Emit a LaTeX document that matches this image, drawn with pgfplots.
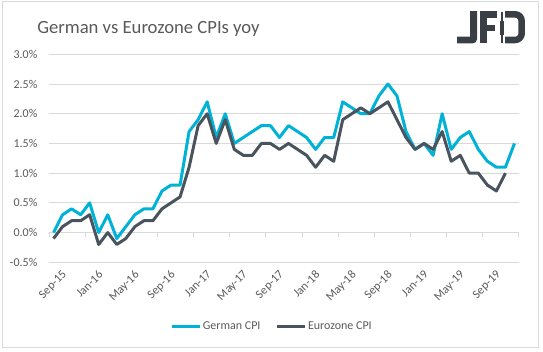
\documentclass[border=0pt]{standalone}
\usepackage{fontspec}
\setmainfont{Carlito}
\usepackage{pgfplots}
\pgfplotsset{compat=1.18}
\usepackage{pgfplotstable}
\definecolor{decol}{HTML}{00B2D6}
\definecolor{ezcol}{HTML}{4A545E}
\definecolor{txt}{HTML}{595959}
\definecolor{gridc}{HTML}{D9D9D9}
\definecolor{logoc}{HTML}{3A3F45}

\pgfplotstableread{
x de ez
0 0.0 -0.1
1 0.3 0.1
2 0.4 0.2
3 0.3 0.2
4 0.5 0.3
5 0.0 -0.2
6 0.3 0.0
7 -0.1 -0.2
8 0.1 -0.1
9 0.3 0.1
10 0.4 0.2
11 0.4 0.2
12 0.7 0.4
13 0.8 0.5
14 0.8 0.6
15 1.7 1.1
16 1.9 1.8
17 2.2 2.0
18 1.6 1.5
19 2.0 1.9
20 1.5 1.4
21 1.6 1.3
22 1.7 1.3
23 1.8 1.5
24 1.8 1.5
25 1.6 1.4
26 1.8 1.5
27 1.7 1.4
28 1.6 1.3
29 1.4 1.1
30 1.6 1.3
31 1.6 1.2
32 2.2 1.9
33 2.1 2.0
34 2.0 2.1
35 2.0 2.0
36 2.3 2.1
37 2.5 2.2
38 2.3 1.9
39 1.7 1.6
40 1.4 1.4
41 1.5 1.5
42 1.3 1.4
43 2.0 1.7
44 1.4 1.2
45 1.6 1.3
46 1.7 1.0
47 1.4 1.0
48 1.2 0.8
49 1.1 0.7
50 1.1 1.0
51 1.5 nan
}\cpi

\begin{document}
\begin{tikzpicture}
\useasboundingbox (0pt,0pt) rectangle (407.25pt,-263.25pt);
\draw[gridc, line width=0.75pt] (1.875pt,-1.125pt) rectangle (403.875pt,-260.625pt);
\node[anchor=base west, inner sep=0pt, font=\fontsize{14}{16}\selectfont, text=txt] at (27.75pt,-24.975pt) {German vs Eurozone CPIs yoy};
% logo
\begin{scope}[x=0.75pt,y=0.75pt]
\fill[logoc] (470,-11) -- (477,-11) [rounded corners=3pt] -- (477,-43.3) [sharp corners] -- (457,-43.3) -- (457,-36.5) -- (470,-36.5) -- cycle;
\fill[logoc] (480,-11) rectangle (487,-43.3);
\fill[logoc] (480,-11) rectangle (497,-17.5);
\fill[logoc] (480,-24.5) rectangle (495,-30.5);
\fill[logoc] (501,-11.5) rectangle (502.5,-43);
\fill[logoc] (499.6,-21) rectangle (503.9,-35);
\draw[logoc, line width=4.9pt, rounded corners=5pt] (505,-14.3) -- (521.7,-14.3) -- (521.7,-40) -- (505,-40);
\end{scope}
\begin{axis}[
  at={(36.75pt,-40.725pt)}, anchor=north west,
  scale only axis, width=352.5pt, height=156pt,
  xmin=-0.5, xmax=51.5, ymin=-0.5, ymax=3.0,
  axis line style={draw=none},
  ytick={-0.5,0,...,3.0},
  ymajorgrids, grid style={gridc, line width=0.75pt},
  xtick={0,4,...,48},
  xticklabels={Sep-15,Jan-16,May-16,Sep-16,Jan-17,May-17,Sep-17,Jan-18,May-18,Sep-18,Jan-19,May-19,Sep-19},
  major tick length=0pt,
  /pgf/number format/assume math mode=true,
  tick label style={font=\fontsize{9}{11}\selectfont, text=txt},
  yticklabel={\pgfmathprintnumber[fixed,fixed zerofill,precision=1]{\tick}\%},
  y tick label style={anchor=east, inner sep=0pt, xshift=-8.5pt},
  x tick label style={rotate=45, anchor=north east, inner sep=0pt, yshift=-8pt, xshift=0.5pt},
  legend style={at={(0.474,-0.311)}, anchor=center, legend columns=2, draw=none, fill=none,
    font=\fontsize{9}{11}\selectfont, text=txt, inner sep=0pt, nodes={inner sep=1.2pt},
    /tikz/every even column/.append style={column sep=10pt}},
  legend image code/.code={\draw[#1, line width=2.25pt] (0pt,0pt) -- (21pt,0pt);},
  clip=false,
]
\pgfplotsinvokeforeach{-0.5,3.5,...,51.5}{\draw[gridc, line width=0.75pt] (axis cs:#1,0) -- ++(0pt,-3pt);}
\addplot[decol, line width=2.25pt, line join=round] table[x=x,y=de]{\cpi};
\addlegendentry{German CPI}
\addplot[ezcol, line width=2.25pt, line join=round] table[x=x,y=ez]{\cpi};
\addlegendentry{Eurozone CPI}
\end{axis}
\end{tikzpicture}
\end{document}
